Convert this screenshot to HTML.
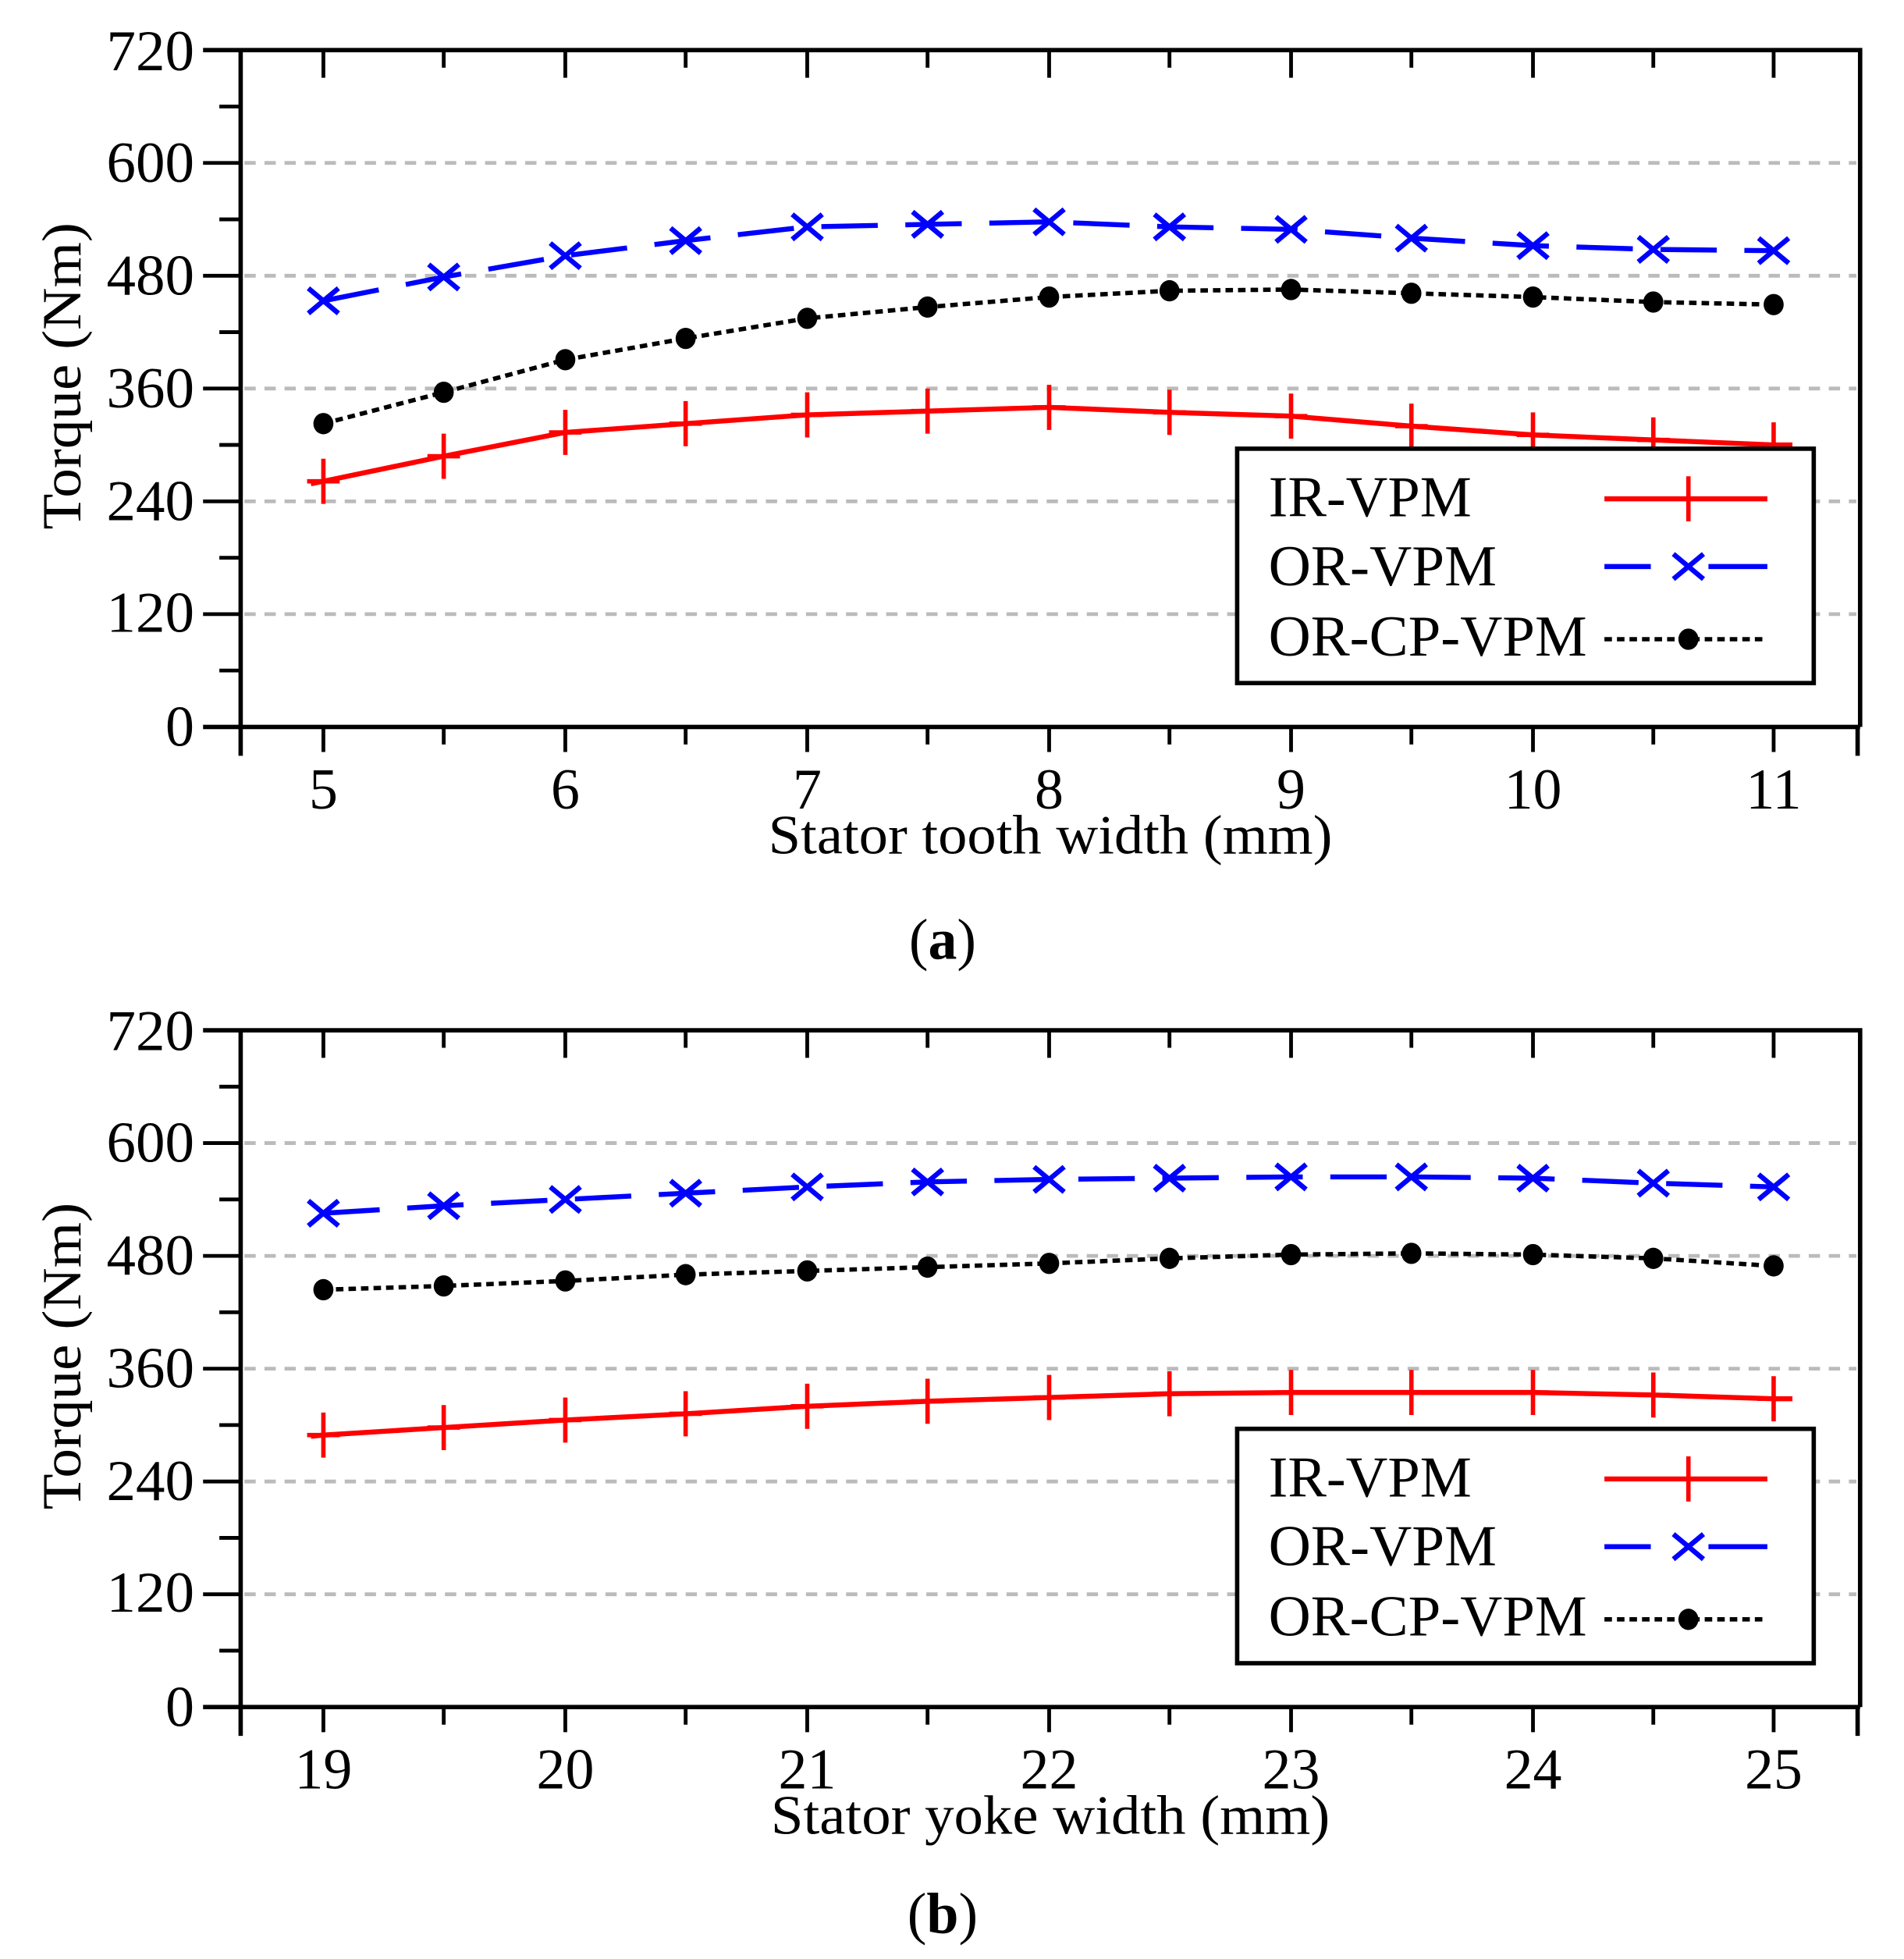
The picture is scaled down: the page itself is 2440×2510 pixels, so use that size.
<!DOCTYPE html>
<html><head><meta charset="utf-8"><style>
html,body{margin:0;padding:0;background:#fff;}
svg{display:block;}
text{font-family:"Liberation Serif","Times New Roman",serif;fill:#000;}
</style></head><body>
<svg width="2440" height="2510" viewBox="0 0 1519 1563" preserveAspectRatio="none" xmlns="http://www.w3.org/2000/svg">
<defs>
<g id="pl"><path d="M-13 0H13M0 -18V18" stroke="#f00" stroke-width="3.5" fill="none"/></g>
<g id="xx"><path d="M-12 -10L12 10M-12 10L12 -10" stroke="#00f" stroke-width="4" fill="none"/></g>
<g id="dt"><ellipse rx="8" ry="8.5" fill="#000"/></g>
<g id="frame">
  <g stroke="#bbb" stroke-width="3" stroke-dasharray="9,7">
    <line x1="195" y1="130" x2="1481" y2="130"/><line x1="195" y1="220" x2="1481" y2="220"/>
    <line x1="195" y1="310" x2="1481" y2="310"/><line x1="195" y1="400" x2="1481" y2="400"/>
    <line x1="195" y1="490" x2="1481" y2="490"/>
  </g>
  <g stroke="#000" stroke-width="3.5" fill="none">
    <path d="M162 40H1484V580M162 580H1484M192 40V603M1482 580V603"/>
  </g>
  <g stroke="#000" stroke-width="3">
    <path d="M162 130H192M162 220H192M162 310H192M162 400H192M162 490H192"/>
    <path d="M175 85H192M175 175H192M175 265H192M175 355H192M175 445H192M175 535H192"/>
    <path d="M258 40V62M451 40V62M644 40V62M837 40V62M1030 40V62M1223 40V62M1415 40V62"/>
    <path d="M354 40V54M547 40V54M740 40V54M933 40V54M1126 40V54M1319 40V54"/>
    <path d="M258 580V600M451 580V600M644 580V600M837 580V600M1030 580V600M1223 580V600M1415 580V600"/>
    <path d="M354 580V594M547 580V594M740 580V594M933 580V594M1126 580V594M1319 580V594"/>
  </g>
  <g font-size="46" text-anchor="end">
    <text x="155" y="56" textLength="70" lengthAdjust="spacingAndGlyphs">720</text><text x="155" y="145" textLength="70" lengthAdjust="spacingAndGlyphs">600</text><text x="155" y="235" textLength="70" lengthAdjust="spacingAndGlyphs">480</text>
    <text x="155" y="325" textLength="70" lengthAdjust="spacingAndGlyphs">360</text><text x="155" y="415" textLength="70" lengthAdjust="spacingAndGlyphs">240</text><text x="155" y="504" textLength="70" lengthAdjust="spacingAndGlyphs">120</text>
    <text x="155" y="595">0</text>
  </g>
  <text transform="translate(64,300) rotate(-90)" font-size="44" text-anchor="middle" textLength="245" lengthAdjust="spacingAndGlyphs">Torque (Nm)</text>
</g>
<g id="legend">
  <rect x="987" y="358" width="460" height="187" fill="#fff" stroke="#000" stroke-width="3.5"/>
  <text x="1012" y="412" font-size="46" textLength="162" lengthAdjust="spacingAndGlyphs">IR-VPM</text>
  <text x="1012" y="467" font-size="46" textLength="182" lengthAdjust="spacingAndGlyphs">OR-VPM</text>
  <text x="1012" y="523" font-size="46" textLength="254" lengthAdjust="spacingAndGlyphs">OR-CP-VPM</text>
  <line x1="1280" y1="398" x2="1410" y2="398" stroke="#f00" stroke-width="4"/><use href="#pl" x="1347" y="398"/>
  <path d="M1280 452H1317M1363 452H1410" stroke="#00f" stroke-width="4"/><use href="#xx" x="1347" y="452"/>
  <line x1="1280" y1="510" x2="1410" y2="510" stroke="#000" stroke-width="3.5" stroke-dasharray="6,4"/><use href="#dt" x="1347" y="510"/>
</g>
</defs>

<!-- Panel a -->
<use href="#frame"/>
<polyline fill="none" stroke="#00f" stroke-width="4" stroke-dasharray="45,22" points="258,240 354,221 451,204 547,192 644,181 740,179 837,177 933,181 1030,183 1126,190 1223,196 1319,199 1415,200"/>
<polyline fill="none" stroke="#000" stroke-width="3.5" stroke-dasharray="6,4" points="258,338 354,313 451,287 547,270 644,254 740,245 837,237 933,232 1030,231 1126,234 1223,237 1319,241 1415,243"/>
<polyline fill="none" stroke="#f00" stroke-width="4" points="248,386 258,384 354,364 451,345 547,338 644,331 740,328 837,325 933,329 1030,332 1126,340 1223,347 1319,351 1415,355 1430,355"/>
<g>
<use href="#xx" x="258" y="240"/><use href="#xx" x="354" y="221"/><use href="#xx" x="451" y="204"/><use href="#xx" x="547" y="192"/><use href="#xx" x="644" y="181"/><use href="#xx" x="740" y="179"/><use href="#xx" x="837" y="177"/><use href="#xx" x="933" y="181"/><use href="#xx" x="1030" y="183"/><use href="#xx" x="1126" y="190"/><use href="#xx" x="1223" y="196"/><use href="#xx" x="1319" y="199"/><use href="#xx" x="1415" y="200"/>
<use href="#dt" x="258" y="338"/><use href="#dt" x="354" y="313"/><use href="#dt" x="451" y="287"/><use href="#dt" x="547" y="270"/><use href="#dt" x="644" y="254"/><use href="#dt" x="740" y="245"/><use href="#dt" x="837" y="237"/><use href="#dt" x="933" y="232"/><use href="#dt" x="1030" y="231"/><use href="#dt" x="1126" y="234"/><use href="#dt" x="1223" y="237"/><use href="#dt" x="1319" y="241"/><use href="#dt" x="1415" y="243"/>
<use href="#pl" x="258" y="384"/><use href="#pl" x="354" y="364"/><use href="#pl" x="451" y="345"/><use href="#pl" x="547" y="338"/><use href="#pl" x="644" y="331"/><use href="#pl" x="740" y="328"/><use href="#pl" x="837" y="325"/><use href="#pl" x="933" y="329"/><use href="#pl" x="1030" y="332"/><use href="#pl" x="1126" y="340"/><use href="#pl" x="1223" y="347"/><use href="#pl" x="1319" y="351"/><use href="#pl" x="1415" y="355"/>
</g>
<use href="#legend"/>
<g font-size="46" text-anchor="middle">
<text x="258" y="645">5</text><text x="451" y="645">6</text><text x="644" y="645">7</text><text x="837" y="645">8</text><text x="1030" y="645">9</text><text x="1223" y="645">10</text><text x="1415" y="645">11</text>
</g>
<text x="838" y="681" font-size="44" text-anchor="middle" textLength="450" lengthAdjust="spacingAndGlyphs">Stator tooth width (mm)</text>
<text x="752" y="765" font-size="46" text-anchor="middle">(<tspan font-weight="bold">a</tspan>)</text>

<!-- Panel b -->
<g transform="translate(0,782)">
<use href="#frame"/>
<polyline fill="none" stroke="#00f" stroke-width="4" stroke-dasharray="45,22" points="258,186 354,180 451,175 547,170 644,165 740,161 837,159 933,158 1030,157 1126,157 1223,158 1319,162 1415,165"/>
<polyline fill="none" stroke="#000" stroke-width="3.5" stroke-dasharray="6,4" points="258,247 354,244 451,240 547,235 644,232 740,229 837,226 933,222 1030,219 1126,218 1223,219 1319,222 1415,228"/>
<polyline fill="none" stroke="#f00" stroke-width="4" points="248,364 258,363 354,357 451,351 547,346 644,340 740,336 837,333 933,330 1030,329 1126,329 1223,329 1319,331 1415,334 1430,334"/>
<use href="#xx" x="258" y="186"/><use href="#xx" x="354" y="180"/><use href="#xx" x="451" y="175"/><use href="#xx" x="547" y="170"/><use href="#xx" x="644" y="165"/><use href="#xx" x="740" y="161"/><use href="#xx" x="837" y="159"/><use href="#xx" x="933" y="158"/><use href="#xx" x="1030" y="157"/><use href="#xx" x="1126" y="157"/><use href="#xx" x="1223" y="158"/><use href="#xx" x="1319" y="162"/><use href="#xx" x="1415" y="165"/>
<use href="#dt" x="258" y="247"/><use href="#dt" x="354" y="244"/><use href="#dt" x="451" y="240"/><use href="#dt" x="547" y="235"/><use href="#dt" x="644" y="232"/><use href="#dt" x="740" y="229"/><use href="#dt" x="837" y="226"/><use href="#dt" x="933" y="222"/><use href="#dt" x="1030" y="219"/><use href="#dt" x="1126" y="218"/><use href="#dt" x="1223" y="219"/><use href="#dt" x="1319" y="222"/><use href="#dt" x="1415" y="228"/>
<use href="#pl" x="258" y="363"/><use href="#pl" x="354" y="357"/><use href="#pl" x="451" y="351"/><use href="#pl" x="547" y="346"/><use href="#pl" x="644" y="340"/><use href="#pl" x="740" y="336"/><use href="#pl" x="837" y="333"/><use href="#pl" x="933" y="330"/><use href="#pl" x="1030" y="329"/><use href="#pl" x="1126" y="329"/><use href="#pl" x="1223" y="329"/><use href="#pl" x="1319" y="331"/><use href="#pl" x="1415" y="334"/>
<use href="#legend"/>
<g font-size="46" text-anchor="middle">
<text x="258" y="645">19</text><text x="451" y="645">20</text><text x="644" y="645">21</text><text x="837" y="645">22</text><text x="1030" y="645">23</text><text x="1223" y="645">24</text><text x="1415" y="645">25</text>
</g>
<text x="838" y="681" font-size="44" text-anchor="middle" textLength="446" lengthAdjust="spacingAndGlyphs">Stator yoke width (mm)</text>
<text x="752" y="760" font-size="46" text-anchor="middle">(<tspan font-weight="bold">b</tspan>)</text>
</g>
</svg>
</body></html>
